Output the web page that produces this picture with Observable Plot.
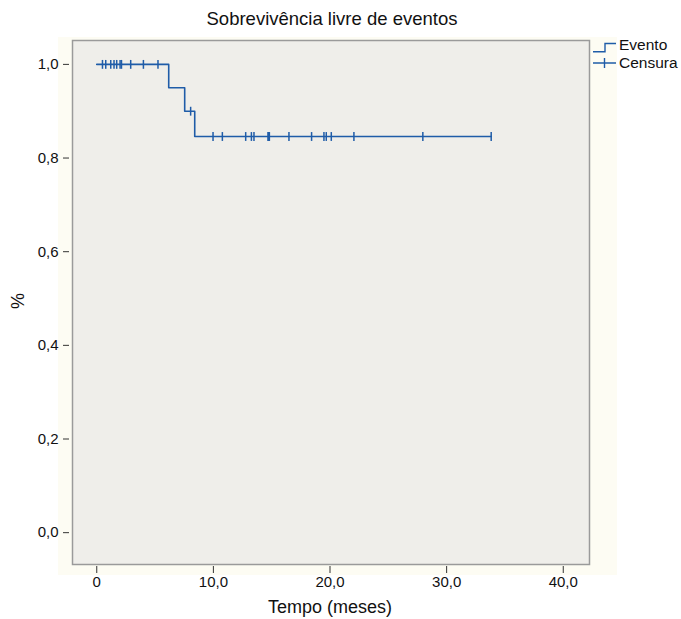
<!DOCTYPE html>
<html>
<head>
<meta charset="utf-8">
<script src="https://cdn.jsdelivr.net/npm/d3@7"></script>
<script src="https://cdn.jsdelivr.net/npm/@observablehq/plot@0.6"></script>
<style>
  html, body { margin: 0; padding: 0; background: #ffffff; }
  #chart { width: 681px; height: 619px; }
</style>
</head>
<body>
<div id="chart"></div>
<script>
// Kaplan–Meier step curve (event times and survival after each event)
const stepTimes = [0, 6.17, 7.54, 8.4, 33.82];
const stepSurv  = [1.0, 0.95, 0.90, 0.846, 0.846];

// Censored observations
const censorTimes = [0.49, 0.77, 1.2, 1.48, 1.71, 2.0, 2.12, 2.91, 4.0, 5.25,
                     8.05,
                     9.97, 10.77, 12.77, 13.26, 13.48, 14.68, 14.76, 14.8, 16.48, 18.42,
                     19.48, 19.68, 20.11, 22.05, 27.96, 33.82];
const censorSurv  = [1, 1, 1, 1, 1, 1, 1, 1, 1, 1,
                     0.90,
                     0.846, 0.846, 0.846, 0.846, 0.846, 0.846, 0.846, 0.846, 0.846, 0.846,
                     0.846, 0.846, 0.846, 0.846, 0.846, 0.846];

const xTicks = [0, 10, 20, 30, 40];
const yTicks = [0, 0.2, 0.4, 0.6, 0.8, 1.0];

const title = "Sobrevivência livre de eventos";
const xLabel = "Tempo (meses)";
const yLabel = "%";
const legendLabels = ["Evento", "Censura"];

const blue = "#1f5ca8";
const font = "'Liberation Sans', Arial, sans-serif";

const steps = stepTimes.map((t, i) => ({t, s: stepSurv[i]}));
const censors = censorTimes.map((t, i) => ({t, s: censorSurv[i]}));

const tickSym = {
  draw(context, size) {
    const r = Math.sqrt(size) / 2;
    context.moveTo(0, -r);
    context.lineTo(0, r);
  }
};

const chart = Plot.plot({
  width: 681,
  height: 619,
  marginLeft: 72,
  marginRight: 92,
  marginTop: 40,
  marginBottom: 55,
  style: {fontFamily: font, background: "transparent", overflow: "visible"},
  x: {domain: [-2.08, 42.25]},
  y: {domain: [-0.068, 1.051]},
  marks: [
    Plot.frame({fill: "#efeeea", stroke: "#9a9a9a", strokeWidth: 1.5}),
    Plot.axisX({
      ticks: xTicks, tickSize: 7, tickPadding: 3, dy: 2,
      tickFormat: d => d === 0 ? "0" : d.toFixed(1).replace(".", ","),
      fontSize: 15, stroke: "#333", color: "#111", label: null
    }),
    Plot.axisY({
      ticks: yTicks, tickSize: 6, tickPadding: 5, dx: -3,
      tickFormat: d => d.toFixed(1).replace(".", ","),
      fontSize: 15, stroke: "#333", color: "#111", label: null
    }),
    Plot.line(steps, {x: "t", y: "s", curve: "step-after", stroke: blue, strokeWidth: 1.6}),
    Plot.dot(censors, {x: "t", y: "s", symbol: tickSym, r: 5, stroke: blue, strokeWidth: 1.5, fill: "none"})
  ]
});

const svg = d3.select(chart);
// faint cream backdrop behind the plot frame
svg.insert("rect", ":first-child")
  .attr("x", 58).attr("y", 37).attr("width", 559).attr("height", 538)
  .attr("fill", "#fdfcf3");
svg.insert("rect", ":first-child")
  .attr("x", 0).attr("y", 0).attr("width", 681).attr("height", 619)
  .attr("fill", "#ffffff");

// title
svg.append("text")
  .attr("x", 332).attr("y", 25)
  .attr("text-anchor", "middle")
  .attr("font-family", font).attr("font-size", 18.5).attr("fill", "#111")
  .text(title);

// axis labels
svg.append("text")
  .attr("x", 330).attr("y", 613)
  .attr("text-anchor", "middle")
  .attr("font-family", font).attr("font-size", 18).attr("fill", "#111")
  .text(xLabel);
svg.append("text")
  .attr("transform", "translate(24,301) rotate(-90)")
  .attr("text-anchor", "middle")
  .attr("font-family", font).attr("font-size", 18).attr("fill", "#111")
  .text(yLabel);

// legend
const lg = svg.append("g");
lg.append("path")
  .attr("d", "M593,51.7H605V43.5H616")
  .attr("fill", "none").attr("stroke", blue).attr("stroke-width", 1.4);
lg.append("path")
  .attr("d", "M593,63H616M604.5,58V68")
  .attr("fill", "none").attr("stroke", blue).attr("stroke-width", 1.4);
lg.append("text").attr("x", 619).attr("y", 50)
  .attr("text-anchor", "start")
  .attr("font-family", font).attr("font-size", 15.5).attr("fill", "#111")
  .text(legendLabels[0]);
lg.append("text").attr("x", 619).attr("y", 68)
  .attr("text-anchor", "start")
  .attr("font-family", font).attr("font-size", 15.5).attr("fill", "#111")
  .text(legendLabels[1]);

document.getElementById("chart").appendChild(chart);
</script>
</body>
</html>
